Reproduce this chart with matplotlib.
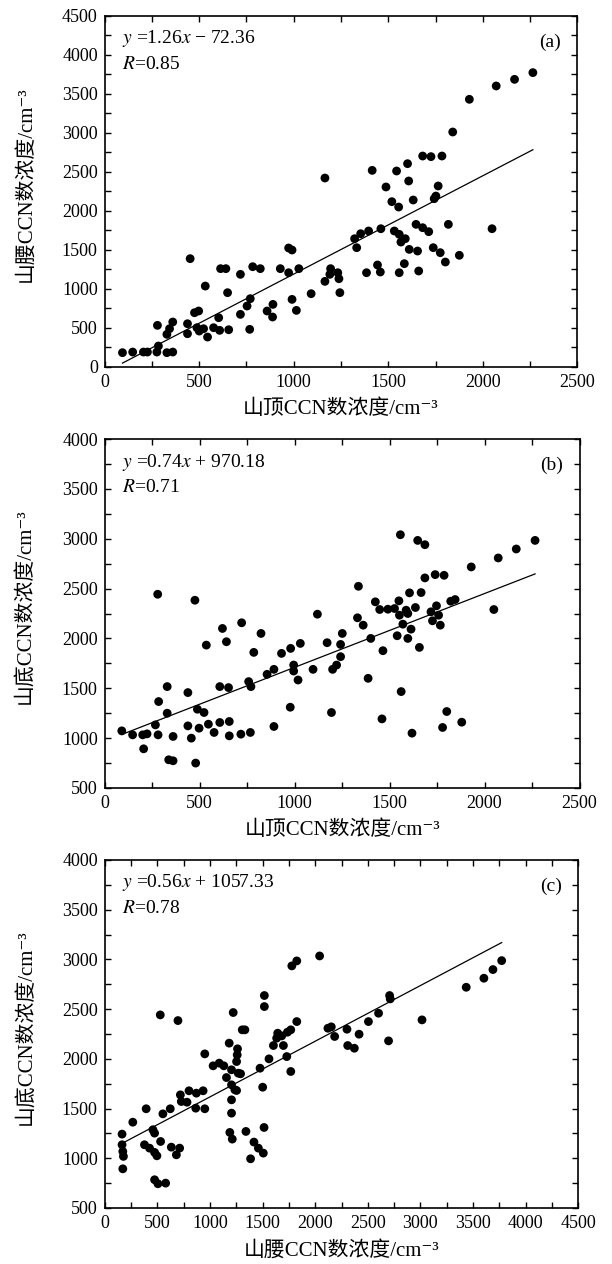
import numpy as np
import matplotlib
matplotlib.use('Agg')
import matplotlib.pyplot as plt
from matplotlib.ticker import MultipleLocator

plt.rcParams['font.family'] = ['Liberation Serif', 'Noto Sans CJK SC', 'DejaVu Serif']
plt.rcParams['mathtext.fontset'] = 'stix'

# (a) 山顶 vs 山腰
a_x = [94, 148, 205, 226, 276, 284, 279, 329, 343, 360, 329, 360, 438, 438, 452, 475, 497, 488, 500, 523,
       544, 532, 576, 603, 608, 656, 613, 641, 650, 718, 718, 753, 770, 767, 783, 823, 859, 890, 888, 929,
       973, 973, 991, 1027, 991, 1014, 1092, 1165, 1165, 1195, 1191, 1233, 1239, 1244, 1322, 1333, 1354,
       1396, 1461, 1385, 1443, 1458, 1415, 1488, 1519, 1555, 1544, 1602, 1608, 1632, 1532, 1558, 1567, 1590,
       1611, 1655, 1558, 1585, 1661, 1647, 1682, 1714, 1682, 1726, 1784, 1764, 1752, 1743, 1738, 1775, 1802,
       1818, 1876, 1841, 1929, 2049, 2071, 2168, 2265]
a_y = [180, 188, 188, 188, 188, 265, 530, 415, 487, 573, 180, 188, 423, 551, 1385, 692, 714, 500, 457, 487,
       380, 1034, 500, 628, 466, 474, 1257, 1257, 949, 671, 1184, 778, 872, 479, 1282, 1257, 714, 799, 637, 1257,
       1205, 1522, 1496, 1257, 863, 722, 936, 1094, 2419, 1257, 1184, 1205, 1128, 949, 1641, 1526, 1705,
       1740, 1769, 1205, 1304, 1214, 2517, 2304, 2116, 2047, 2509, 2603, 2381, 2137, 1740, 1697, 1598, 1641,
       1504, 1483, 1205, 1321, 1227, 1825, 1782, 1731, 2701, 2693, 2701, 2317, 2188, 2154, 1526, 1462, 1342,
       1825, 1428, 3009, 3428, 1769, 3599, 3684, 3770]

# (b) 山顶 vs 山底
b_x = [90, 147, 200, 223, 281, 267, 360, 205, 337, 360, 284, 329, 329, 279, 438, 438, 456, 479, 497, 488,
       523, 546, 576, 606, 656, 656, 717, 767, 606, 652, 758, 770, 475, 535, 620, 641, 721, 785, 823, 855,
       891, 891, 931, 979, 995, 995, 1018, 1030, 977, 1097, 1171, 1120, 1194, 1200, 1221, 1242, 1242, 1251,
       1331, 1336,
       1361, 1401, 1387, 1465, 1460, 1425, 1448, 1491, 1526, 1549, 1557, 1552, 1570, 1587, 1596, 1636, 1605,
       1666, 1613, 1596, 1540, 1657, 1561, 1618, 1648, 1686, 1686, 1740, 1787, 1718, 1747, 1758, 1726, 1767,
       1822, 1845, 1801, 1779, 1880, 1930, 2049, 2072, 2167, 2266]
b_y = [1073, 1033, 1033, 1043, 1033, 1133, 1017, 893, 783, 773, 1367, 1250, 1517, 2443, 1457, 1123, 1000, 750,
       1100, 1290, 1257, 1140, 1057, 1157, 1167, 1023, 1040, 1057, 1517, 1507, 1567, 1517, 2383, 1933, 2100,
       1967, 2157, 1860, 2050, 1640, 1690, 1117, 1850, 1900, 1733, 1673, 1583, 1950, 1310, 1690, 1957, 2243,
       1257, 1690, 1733, 1817, 1940, 2050, 2207, 2523,
       2133, 2000, 1600, 1877, 1193, 2367, 2290, 2293, 2300, 2377, 3040, 2233, 2143, 2283, 2250, 2310, 2457,
       2460, 2093, 2000, 2027, 1910, 1467, 1050, 2983, 2940, 2607, 2640, 2633, 2267, 2327, 2233, 2177, 2133,
       2373, 2390, 1267, 1107, 1160, 2717, 2290, 2807, 2897, 2983]

# (c) 山腰 vs 山底
c_x = [165, 165, 172, 178, 172, 267, 378, 394, 426, 458, 474, 474, 496, 531, 474, 506, 579, 528, 553, 623,
       633, 681, 712, 696, 719, 728, 782, 801, 865, 871, 935, 951, 951, 1030, 1088, 1132, 1157, 1183, 1205,
       1205, 1205, 1205, 1189, 1212, 1221, 1237, 1253, 1253, 1259, 1262, 1269, 1291, 1307, 1332, 1342, 1418,
       1460, 1386, 1507, 1514, 1476, 1501, 1517, 1517, 1561, 1603, 1634, 1644, 1682, 1698, 1730, 1736, 1768,
       1768, 1778, 1825, 1825, 2042, 2121, 2153, 2185, 2302, 2309, 2372, 2417,
       2506, 2602, 2707, 2713, 2697, 3015, 3435, 3603, 3689, 3772]
c_y = [1243, 1136, 1069, 1019, 894, 1363, 1136, 1498, 1102, 1287, 1253, 1059, 1025, 1169, 784, 744, 750, 2442,
       1447, 1498, 1112, 1035, 1102, 2385, 1638, 1571, 1564, 1679, 1504, 1655, 1679, 1498, 2050, 1930, 1957,
       1930, 1812, 2158, 1890, 1739, 1588, 1454, 1260, 1193, 2466, 1689, 1682, 1973, 2040, 2101, 1856, 1850,
       2292, 2292, 1270, 1163, 1102, 995, 1052, 1310, 1906, 1715, 2526, 2637, 2000, 2134, 2208, 2258, 2231,
       2134, 2023, 2268, 2292, 1873, 2935, 2985, 2375, 3035, 2308, 2322, 2225, 2298, 2134, 2107, 2248,
       2375, 2459, 2637, 2603, 2181, 2392, 2720, 2811, 2898, 2988]

fits = [(1.26, -72.36), (0.74, 970.18), (0.56, 1057.33)]
eq_texts = [r'$y$ =1.26$x$ − 72.36', r'$y$ =0.74$x$ + 970.18', r'$y$ =0.56$x$ + 1057.33']
r_texts = [r'$R$=0.85', r'$R$=0.71', r'$R$=0.78']
tags = ['(a)', '(b)', '(c)']
xlabels = ['山顶CCN数浓度/cm⁻³', '山顶CCN数浓度/cm⁻³', '山腰CCN数浓度/cm⁻³']
ylabels = ['山腰CCN数浓度/cm⁻³', '山底CCN数浓度/cm⁻³', '山底CCN数浓度/cm⁻³']
xlims = [(0, 2500), (0, 2500), (0, 4500)]
ylims = [(0, 4500), (500, 4000), (500, 4000)]

W, H = 612, 1264
fig = plt.figure(figsize=(W / 100, H / 100), dpi=100)
boxes = [(104.7, 577.3, 15.7, 366.7), (104.7, 579.5, 439, 788), (104.7, 578.3, 860, 1208)]

data = [(a_x, a_y), (b_x, b_y), (c_x, c_y)]
for i in range(3):
    l, r, t, b = boxes[i]
    ax = fig.add_axes([l / W, 1 - b / H, (r - l) / W, (b - t) / H])
    x, y = np.array(data[i][0]), np.array(data[i][1])
    ax.scatter(x, y, s=40, c='black', edgecolors='none', zorder=3)
    k, c0 = fits[i]
    xl = np.array([x.min(), x.max()])
    ax.plot(xl, k * xl + c0, color='black', lw=0.9, zorder=2)

    ax.set_xlim(*xlims[i])
    ax.set_ylim(*ylims[i])
    ax.xaxis.set_major_locator(MultipleLocator(500))
    ax.xaxis.set_minor_locator(MultipleLocator(250))
    ax.yaxis.set_major_locator(MultipleLocator(500))
    ax.yaxis.set_minor_locator(MultipleLocator(250))
    ax.tick_params(which='both', direction='in', top=True, right=True, length=4, width=1, labelsize=13)
    ax.tick_params(axis='x', pad=5)
    ax.tick_params(axis='y', pad=5)
    for s in ax.spines.values():
        s.set_linewidth(1.2)

    ax.set_xlabel(xlabels[i], fontsize=15, va='center')
    ax.set_ylabel(ylabels[i], fontsize=15)
    ax.xaxis.set_label_coords(0.5, -0.122)
    ax.yaxis.set_label_coords(-0.147, 0.52)

    ax.text(0.036, 0.934, eq_texts[i], transform=ax.transAxes, fontsize=14, va='center', ha='left')
    ax.text(0.036, 0.86, r_texts[i], transform=ax.transAxes, fontsize=14, va='center', ha='left')
    ax.text(0.965, 0.925, tags[i], transform=ax.transAxes, fontsize=14, va='center', ha='right')

fig.savefig('out.png', dpi=100)
